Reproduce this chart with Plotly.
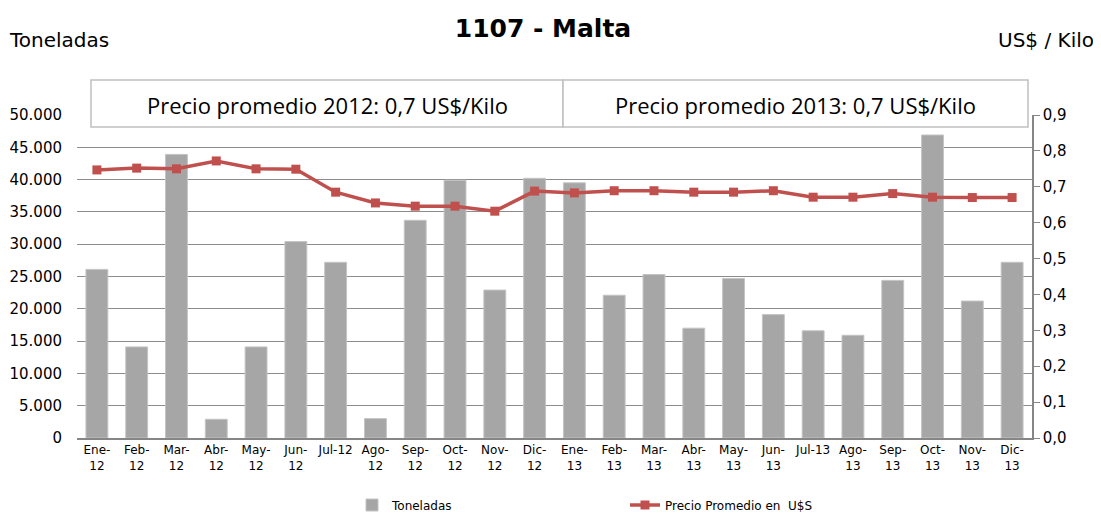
import plotly.graph_objects as go

months = ["Ene-12", "Feb-12", "Mar-12", "Abr-12", "May-12", "Jun-12", "Jul-12", "Ago-12",
          "Sep-12", "Oct-12", "Nov-12", "Dic-12", "Ene-13", "Feb-13", "Mar-13", "Abr-13",
          "May-13", "Jun-13", "Jul-13", "Ago-13", "Sep-13", "Oct-13", "Nov-13", "Dic-13"]
tick_labels = ["Ene-<br>12", "Feb-<br>12", "Mar-<br>12", "Abr-<br>12", "May-<br>12", "Jun-<br>12",
               "Jul-12<br> ", "Ago-<br>12", "Sep-<br>12", "Oct-<br>12", "Nov-<br>12", "Dic-<br>12",
               "Ene-<br>13", "Feb-<br>13", "Mar-<br>13", "Abr-<br>13", "May-<br>13", "Jun-<br>13",
               "Jul-13<br> ", "Ago-<br>13", "Sep-<br>13", "Oct-<br>13", "Nov-<br>13", "Dic-<br>13"]
toneladas = [26100, 14100, 43900, 2900, 14100, 30400, 27200, 3000, 33700, 39900, 22900, 40200,
             39500, 22100, 25300, 17000, 24700, 19100, 16600, 15900, 24400, 46900, 21200, 27200]
precio = [0.747, 0.752, 0.750, 0.772, 0.750, 0.749, 0.685, 0.655, 0.646, 0.646, 0.632, 0.688,
          0.683, 0.689, 0.689, 0.685, 0.685, 0.689, 0.671, 0.671, 0.681, 0.671, 0.670, 0.670]
left_ticks = list(range(0, 50001, 5000))
left_tick_text = ["0", "5.000", "10.000", "15.000", "20.000", "25.000", "30.000", "35.000",
                  "40.000", "45.000", "50.000"]
right_ticks = [0, 0.1, 0.2, 0.3, 0.4, 0.5, 0.6, 0.7, 0.8, 0.9]
right_tick_text = ["0,0", "0,1", "0,2", "0,3", "0,4", "0,5", "0,6", "0,7", "0,8", "0,9"]
box_texts = ["Precio promedio 2012: 0,7 US$/Kilo", "Precio promedio 2013: 0,7 US$/Kilo"]

FONT = "DejaVu Sans"
fig = go.Figure()
fig.add_trace(go.Bar(x=months, y=toneladas, name="Toneladas",
                     marker=dict(color="#a6a6a6", line=dict(color="#c4c4c4", width=1))))
fig.add_trace(go.Scatter(x=months, y=precio, name="Precio Promedio en  U$S", yaxis="y2",
                         mode="lines+markers",
                         line=dict(color="#c0504d", width=3.5),
                         marker=dict(symbol="square", size=9, color="#c0504d")))

# the page body has an 8px default margin; work in reference-image pixels and shift
OFF = 8
W, H = 1101 - OFF, 514 - OFF
L, R, T, B = 77 - OFF, 1032 - OFF, 115 - OFF, 438 - OFF

def px(x):
    return (x - OFF - L) / (R - L)

def py(y):
    return (B - (y - OFF)) / (B - T)

def cx(x):
    return (x - OFF) / W

def cy(y):
    return 1 - (y - OFF) / H

shapes = []
annotations = []
for (x0, x1), txt in zip([(91, 563), (563, 1028)], box_texts):
    shapes.append(dict(type="rect", xref="paper", yref="paper",
                       x0=px(x0), x1=px(x1), y0=py(127), y1=py(80),
                       line=dict(color="#c0c0c0", width=1.5),
                       fillcolor="white", layer="above"))
    annotations.append(dict(text=txt, xref="paper", yref="paper",
                            x=px((x0 + x1) / 2), y=py(105),
                            showarrow=False, xanchor="center", yanchor="middle",
                            font=dict(family="Open Sans", size=22, color="#000000")))

annotations.append(dict(text="Toneladas", xref="paper", yref="paper", x=px(7),
                        y=py(40), xanchor="left", yanchor="middle", showarrow=False,
                        font=dict(family=FONT, size=20, color="#000000")))
annotations.append(dict(text="US$ / Kilo", xref="paper", yref="paper", x=px(1096),
                        y=py(40), xanchor="right", yanchor="middle", showarrow=False,
                        font=dict(family=FONT, size=20, color="#000000")))

fig.update_layout(
    width=W, height=H,
    margin=dict(l=L, r=W - R, t=T, b=H - B, autoexpand=False),
    paper_bgcolor="white", plot_bgcolor="white",
    title=dict(text="<b>1107 - Malta</b>", x=cx(543), xanchor="center",
               y=cy(28), yanchor="middle",
               font=dict(family=FONT, size=25, color="#000000")),
    bargap=0.45,
    xaxis=dict(type="category", tickvals=months, ticktext=tick_labels, showgrid=False,
               range=[-0.5, len(months) - 0.5],
               showline=True, linecolor="#868686", linewidth=1.5, ticks="",
               automargin=False,
               tickfont=dict(family=FONT, size=12, color="#000000")),
    yaxis=dict(range=[0, 50000], tickvals=left_ticks, ticktext=left_tick_text,
               showgrid=True, gridcolor="#8c8c8c", gridwidth=1, zeroline=False,
               showline=False, ticks="outside", ticklen=11, tickcolor="rgba(0,0,0,0)",
               automargin=False,
               tickfont=dict(family=FONT, size=15, color="#000000")),
    yaxis2=dict(range=[0, 0.9], tickvals=right_ticks, ticktext=right_tick_text,
                overlaying="y", side="right", showgrid=False, zeroline=False,
                showline=True, linecolor="#868686", linewidth=1.5,
                ticks="outside", ticklen=6, tickcolor="#868686", automargin=False,
                tickfont=dict(family=FONT, size=15, color="#000000")),
    legend=dict(orientation="h", xref="container", yref="container",
                x=cx(352), xanchor="left", y=cy(505), yanchor="middle",
                entrywidth=228, entrywidthmode="pixels",
                font=dict(family=FONT, size=12, color="#000000")),
    shapes=shapes, annotations=annotations,
)

fig.write_html("out.html")
